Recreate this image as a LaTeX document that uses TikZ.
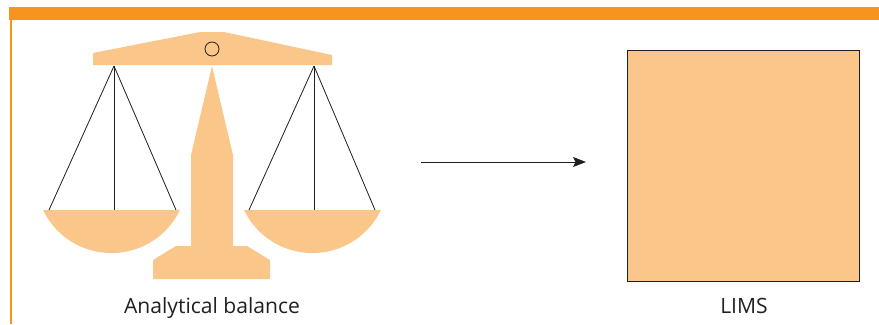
\documentclass[tikz,border=0pt]{standalone}
\usepackage{fontspec}
\setmainfont{Open Sans}
\usetikzlibrary{arrows.meta}
\definecolor{barorange}{HTML}{F7941D}
\definecolor{lightorange}{HTML}{FBC689}
\definecolor{darkline}{HTML}{231F20}

\begin{document}
\begin{tikzpicture}[x=0.03cm,y=-0.03cm,
  part/.style={fill=lightorange,draw=none},
  cord/.style={draw=darkline,line width=0.7pt},
  label/.style={font=\fontsize{18}{20}\selectfont,text=darkline,anchor=base}]
\useasboundingbox (0,0) rectangle (879,324);
% header bar and side rule
\fill[barorange] (9,7) rectangle (879,20);
\fill[barorange] (10,20) rectangle (11.5,324);

% beam
\fill[part] (93,65) -- (93,53) -- (200,32) -- (224,32) -- (332,55) -- (332,65) -- cycle;
\draw[cord] (212,49) circle[radius=7];
% pillar and foot
\fill[part] (212,66) -- (233,155) -- (233,246) -- (247,246) -- (270,260) -- (270,279)
  -- (153,279) -- (153,260) -- (176,246) -- (191,246) -- (191,155) -- cycle;
% pans
\fill[part] (43,210) arc[start angle=154.3,end angle=25.7,radius=76] -- cycle;
\fill[part] (244,210) arc[start angle=154.3,end angle=25.7,radius=76] -- cycle;
% cords
\coordinate (lhook) at (114,66);
\coordinate (rhook) at (314,66);
\foreach \x in {49,114,176} \draw[cord] (lhook) -- (\x,210);
\foreach \x in {249,314,375} \draw[cord] (rhook) -- (\x,210);
\node[label] (balance) at (212,313) {Analytical balance};

% arrow and LIMS
\coordinate (from) at (421,162);
\coordinate (to) at (586,162);
\draw[darkline,line width=0.8pt,-{Stealth[length=11pt,width=8.5pt,inset=2pt]}] (from) -- (to);
\node[draw=darkline,fill=lightorange,line width=0.8pt,inner sep=0pt,
  minimum width=232*0.03cm,minimum height=231*0.03cm] (lims) at (743,165.5) {};
\node[label] (limslabel) at (744,313) {LIMS};
\end{tikzpicture}
\end{document}
